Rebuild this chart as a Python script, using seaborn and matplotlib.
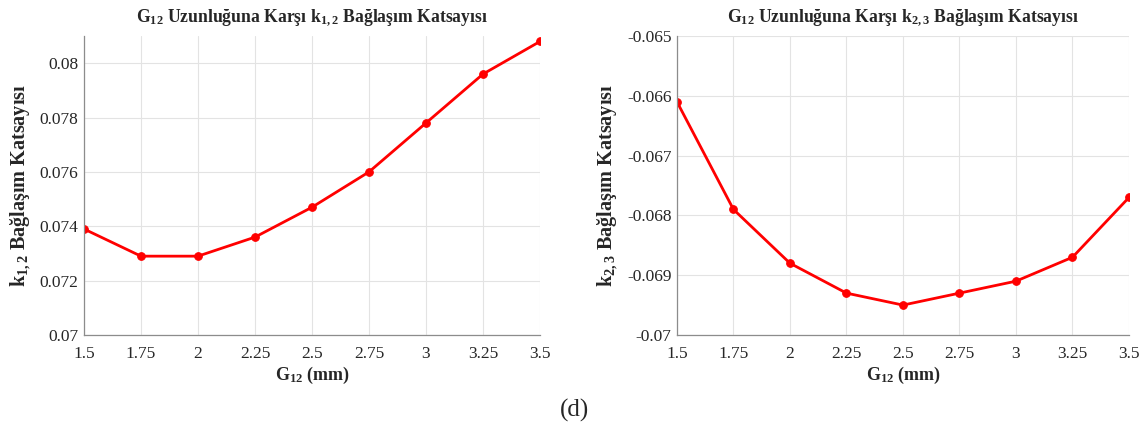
"""
G12 uzunluğuna karşı bağlaşım katsayıları (k12, k23)
"""
import pandas as pd
import matplotlib.pyplot as plt
import seaborn as sns
from matplotlib.ticker import FuncFormatter

# veri
g12 = [1.5, 1.75, 2.0, 2.25, 2.5, 2.75, 3.0, 3.25, 3.5]
k12 = [0.0739, 0.0729, 0.0729, 0.0736, 0.0747, 0.0760, 0.0778, 0.0796, 0.0808]
k23 = [-0.0661, -0.0679, -0.0688, -0.0693, -0.0695, -0.0693, -0.0691, -0.0687, -0.0677]
x_ticks = [1.5, 1.75, 2, 2.25, 2.5, 2.75, 3, 3.25, 3.5]
k12_ticks = [0.07, 0.072, 0.074, 0.076, 0.078, 0.08]
k23_ticks = [-0.07, -0.069, -0.068, -0.067, -0.066, -0.065]

sns.set_style("whitegrid")
plt.rcParams['font.family'] = ['Liberation Serif', 'DejaVu Serif']
plt.rcParams['axes.unicode_minus'] = False
plt.rcParams['mathtext.fontset'] = 'custom'
plt.rcParams['mathtext.rm'] = 'Liberation Serif'
plt.rcParams['mathtext.bf'] = 'Liberation Serif:bold'

df = pd.DataFrame({'g12': g12, 'k12': k12, 'k23': k23})

fig = plt.figure(figsize=(11.47, 4.36), dpi=100)
ax1 = fig.add_axes([0.0732, 0.2317, 0.3976, 0.6857])
ax2 = fig.add_axes([0.5902, 0.2317, 0.3941, 0.6857])

fmt = FuncFormatter(lambda v, p: '%g' % round(v, 6))

panels = [
    (ax1, 'k12', k12_ticks, (0.07, 0.081), r'$\mathbf{k_{1,2}}$'),
    (ax2, 'k23', k23_ticks, (-0.07, -0.065), r'$\mathbf{k_{2,3}}$'),
]
for ax, col, yt, ylim, ksym in panels:
    sns.lineplot(data=df, x='g12', y=col, ax=ax, color='#ff0000', lw=2.0,
                 marker='o', markersize=5.5, markeredgecolor='#ff0000')
    ax.set_xlim(1.5, 3.5)
    ax.set_ylim(*ylim)
    ax.set_xticks(x_ticks)
    ax.set_yticks(yt)
    ax.xaxis.set_major_formatter(fmt)
    ax.yaxis.set_major_formatter(fmt)
    ax.grid(True, color='#e3e3e3', lw=0.8)
    for s in ['top', 'right']:
        ax.spines[s].set_visible(False)
    for s in ['left', 'bottom']:
        ax.spines[s].set_color('#8c8c8c')
        ax.spines[s].set_linewidth(0.9)
    ax.tick_params(direction='in', length=4, width=0.8, color='#262626',
                   labelsize=12.5, labelcolor='#262626')
    ax.tick_params(axis='x', pad=8)
    ax.tick_params(axis='y', pad=4)
    ax.set_xlabel(r'$\mathbf{G_{12}}$ (mm)', fontsize=13, fontweight='bold', labelpad=2)
    ax.set_ylabel(ksym + ' Bağlaşım Katsayısı', fontsize=14.5, fontweight='bold', labelpad=5)
    ax.set_title(r'$\mathbf{G_{12}}$ Uzunluğuna Karşı ' + ksym + ' Bağlaşım Katsayısı',
                 fontsize=12.7, fontweight='bold', pad=10)

fig.text(0.501, 0.058, '(d)', ha='center', va='center', fontsize=18)

plt.savefig('out.png', dpi=100)
plt.close()
